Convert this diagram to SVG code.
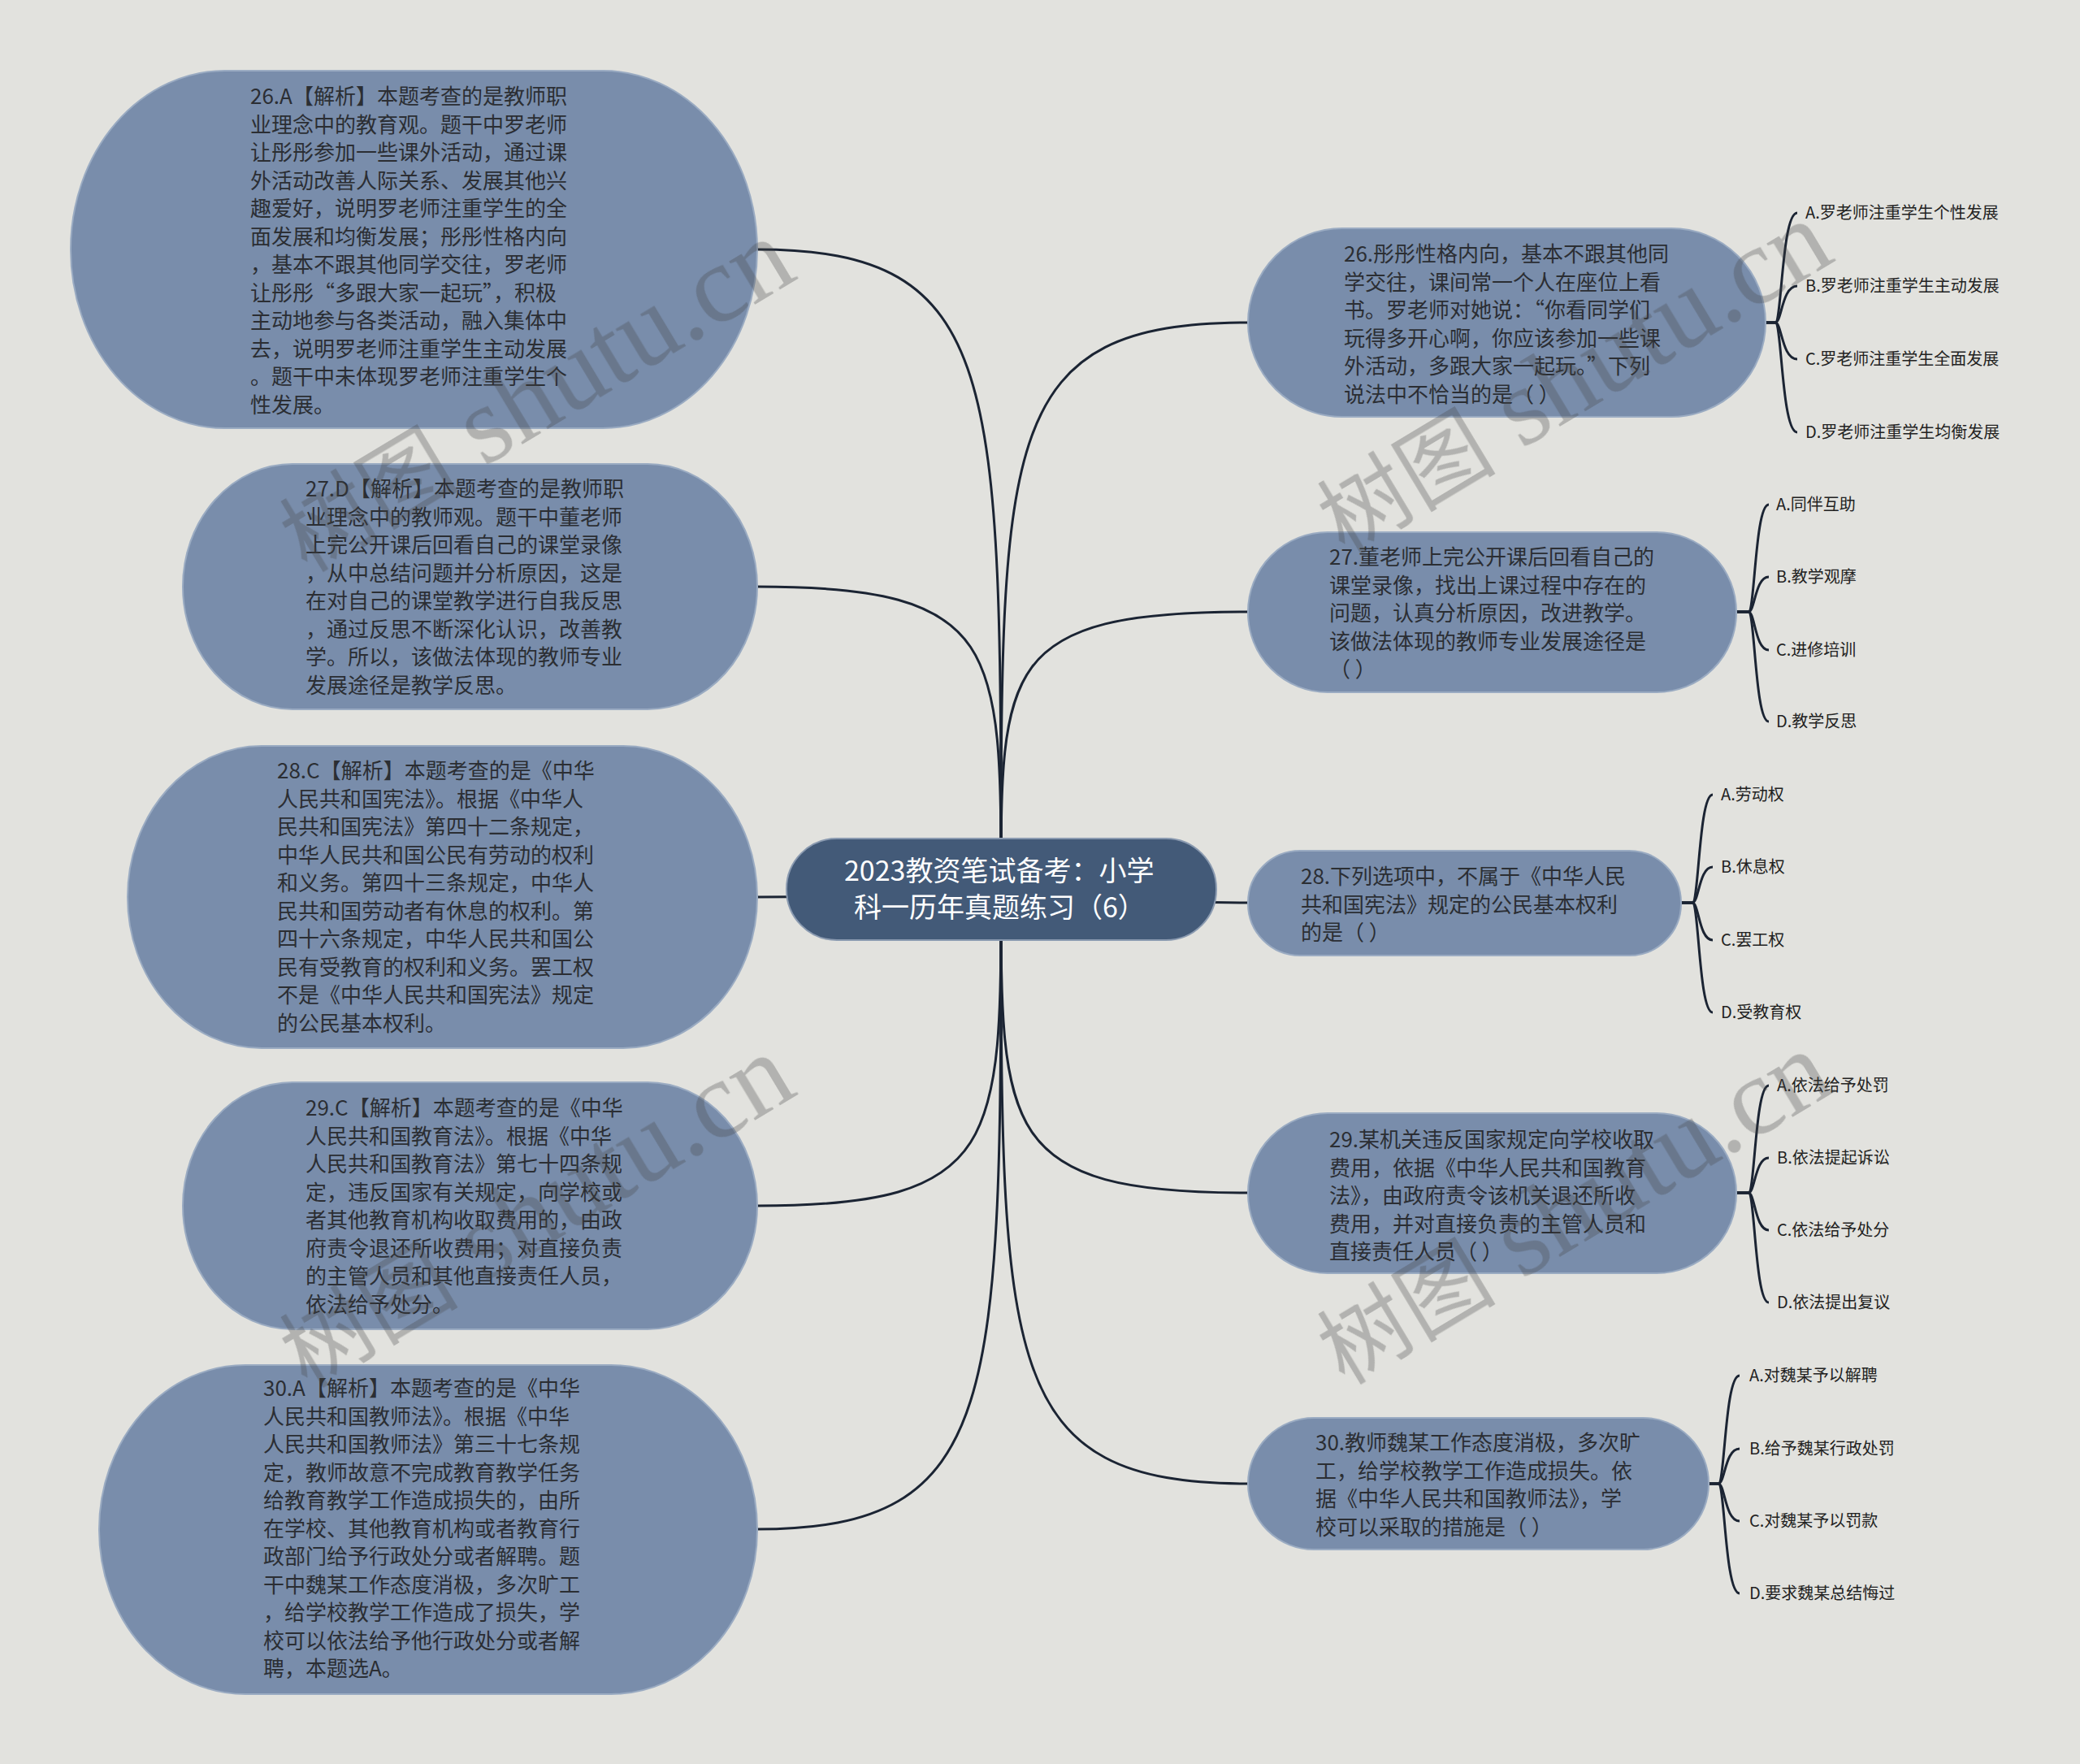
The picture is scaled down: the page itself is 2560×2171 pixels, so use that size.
<svg xmlns="http://www.w3.org/2000/svg" width="2560" height="2171" viewBox="0 0 2560 2171">
<style>
.node rect{fill:#798dab;stroke:#9aabc2;stroke-width:2}
.root rect{fill:#435a78;stroke:#8a9ab0;stroke-width:2}
.t{font-family:"Noto Sans CJK SC","Microsoft YaHei",sans-serif;font-size:26px;fill:#2b2e33}
.rt{font-family:"Noto Sans CJK SC",sans-serif;font-size:34px;fill:#ffffff}
.opt{font-family:"Noto Sans CJK SC",sans-serif;font-size:20px;fill:#222}
.conn path{fill:none;stroke:#1b2433;stroke-width:3}
.wm{font-family:"Liberation Serif","Noto Sans CJK SC",serif;fill:#444;opacity:0.3}
</style>
<rect width="2560" height="2171" fill="#e2e2de"/>
<g id="connectors" class="conn">
<path d="M932 307 C1232 307 1232 464 1232 1094"/>
<path d="M932 722 C1232 722 1232 796 1232 1094"/>
<path d="M932 1104 C1100 1104 1200 1094 1232 1094"/>
<path d="M932 1882 C1232 1882 1232 1724 1232 1094"/>
<path d="M932 1484 C1232 1484 1232 1406 1232 1094"/>
<path d="M1536 397 C1232 397 1232 536 1232 1094"/>
<path d="M1536 753 C1232 753 1232 821 1232 1094"/>
<path d="M1536 1111 C1370 1111 1270 1094 1232 1094"/>
<path d="M1536 1468 C1232 1468 1232 1393 1232 1094"/>
<path d="M1536 1826 C1232 1826 1232 1680 1232 1094"/>
<path d="M2173 397 L2185 397 C2193 397 2193 262 2212 262"/>
<path d="M2173 397 L2185 397 C2193 397 2193 352 2212 352"/>
<path d="M2173 397 L2185 397 C2193 397 2193 442 2212 442"/>
<path d="M2173 397 L2185 397 C2193 397 2193 532 2212 532"/>
<path d="M2137 753 L2152 753 C2160 753 2160 621 2177 621"/>
<path d="M2137 753 L2152 753 C2160 753 2160 710 2177 710"/>
<path d="M2137 753 L2152 753 C2160 753 2160 800 2177 800"/>
<path d="M2137 753 L2152 753 C2160 753 2160 888 2177 888"/>
<path d="M2069 1111 L2083 1111 C2091 1111 2091 978 2108 978"/>
<path d="M2069 1111 L2083 1111 C2091 1111 2091 1067 2108 1067"/>
<path d="M2069 1111 L2083 1111 C2091 1111 2091 1157 2108 1157"/>
<path d="M2069 1111 L2083 1111 C2091 1111 2091 1246 2108 1246"/>
<path d="M2137 1468 L2152 1468 C2160 1468 2160 1336 2177 1336"/>
<path d="M2137 1468 L2152 1468 C2160 1468 2160 1425 2177 1425"/>
<path d="M2137 1468 L2152 1468 C2160 1468 2160 1514 2177 1514"/>
<path d="M2137 1468 L2152 1468 C2160 1468 2160 1603 2177 1603"/>
<path d="M2103 1826 L2115 1826 C2123 1826 2123 1693 2141 1693"/>
<path d="M2103 1826 L2115 1826 C2123 1826 2123 1783 2141 1783"/>
<path d="M2103 1826 L2115 1826 C2123 1826 2123 1872 2141 1872"/>
<path d="M2103 1826 L2115 1826 C2123 1826 2123 1961 2141 1961"/>
</g>
<g id="root" class="root">
<rect x="968" y="1032" width="529" height="125" rx="62" ry="62"/>
<text class="rt" x="1039" y="1084">2023教资笔试备考：小学</text>
<text class="rt" x="1051" y="1129">科一历年真题练习（6）</text>
</g>
<g id="L1" class="node">
<rect x="87" y="87" width="845" height="440" rx="190" ry="220"/>
<text class="t" x="308" y="128">
<tspan x="308" dy="0">26.A【解析】本题考查的是教师职</tspan>
<tspan x="308" dy="34.5">业理念中的教育观。题干中罗老师</tspan>
<tspan x="308" dy="34.5">让彤彤参加一些课外活动，通过课</tspan>
<tspan x="308" dy="34.5">外活动改善人际关系、发展其他兴</tspan>
<tspan x="308" dy="34.5">趣爱好，说明罗老师注重学生的全</tspan>
<tspan x="308" dy="34.5">面发展和均衡发展；彤彤性格内向</tspan>
<tspan x="308" dy="34.5">，基本不跟其他同学交往，罗老师</tspan>
<tspan x="308" dy="34.5">让彤彤“多跟大家一起玩”，积极</tspan>
<tspan x="308" dy="34.5">主动地参与各类活动，融入集体中</tspan>
<tspan x="308" dy="34.5">去，说明罗老师注重学生主动发展</tspan>
<tspan x="308" dy="34.5">。题干中未体现罗老师注重学生个</tspan>
<tspan x="308" dy="34.5">性发展。</tspan>
</text>
</g>
<g id="L2" class="node">
<rect x="225" y="571" width="707" height="302" rx="135" ry="151"/>
<text class="t" x="376" y="611">
<tspan x="376" dy="0">27.D【解析】本题考查的是教师职</tspan>
<tspan x="376" dy="34.5">业理念中的教师观。题干中董老师</tspan>
<tspan x="376" dy="34.5">上完公开课后回看自己的课堂录像</tspan>
<tspan x="376" dy="34.5">，从中总结问题并分析原因，这是</tspan>
<tspan x="376" dy="34.5">在对自己的课堂教学进行自我反思</tspan>
<tspan x="376" dy="34.5">，通过反思不断深化认识，改善教</tspan>
<tspan x="376" dy="34.5">学。所以，该做法体现的教师专业</tspan>
<tspan x="376" dy="34.5">发展途径是教学反思。</tspan>
</text>
</g>
<g id="L3" class="node">
<rect x="157" y="918" width="775" height="372" rx="165" ry="186"/>
<text class="t" x="341" y="958">
<tspan x="341" dy="0">28.C【解析】本题考查的是《中华</tspan>
<tspan x="341" dy="34.5">人民共和国宪法》。根据《中华人</tspan>
<tspan x="341" dy="34.5">民共和国宪法》第四十二条规定，</tspan>
<tspan x="341" dy="34.5">中华人民共和国公民有劳动的权利</tspan>
<tspan x="341" dy="34.5">和义务。第四十三条规定，中华人</tspan>
<tspan x="341" dy="34.5">民共和国劳动者有休息的权利。第</tspan>
<tspan x="341" dy="34.5">四十六条规定，中华人民共和国公</tspan>
<tspan x="341" dy="34.5">民有受教育的权利和义务。罢工权</tspan>
<tspan x="341" dy="34.5">不是《中华人民共和国宪法》规定</tspan>
<tspan x="341" dy="34.5">的公民基本权利。</tspan>
</text>
</g>
<g id="L4" class="node">
<rect x="225" y="1332" width="707" height="304" rx="135" ry="152"/>
<text class="t" x="376" y="1373">
<tspan x="376" dy="0">29.C【解析】本题考查的是《中华</tspan>
<tspan x="376" dy="34.5">人民共和国教育法》。根据《中华</tspan>
<tspan x="376" dy="34.5">人民共和国教育法》第七十四条规</tspan>
<tspan x="376" dy="34.5">定，违反国家有关规定，向学校或</tspan>
<tspan x="376" dy="34.5">者其他教育机构收取费用的，由政</tspan>
<tspan x="376" dy="34.5">府责令退还所收费用；对直接负责</tspan>
<tspan x="376" dy="34.5">的主管人员和其他直接责任人员，</tspan>
<tspan x="376" dy="34.5">依法给予处分。</tspan>
</text>
</g>
<g id="L5" class="node">
<rect x="122" y="1680" width="810" height="405" rx="180" ry="202"/>
<text class="t" x="324" y="1718">
<tspan x="324" dy="0">30.A【解析】本题考查的是《中华</tspan>
<tspan x="324" dy="34.5">人民共和国教师法》。根据《中华</tspan>
<tspan x="324" dy="34.5">人民共和国教师法》第三十七条规</tspan>
<tspan x="324" dy="34.5">定，教师故意不完成教育教学任务</tspan>
<tspan x="324" dy="34.5">给教育教学工作造成损失的，由所</tspan>
<tspan x="324" dy="34.5">在学校、其他教育机构或者教育行</tspan>
<tspan x="324" dy="34.5">政部门给予行政处分或者解聘。题</tspan>
<tspan x="324" dy="34.5">干中魏某工作态度消极，多次旷工</tspan>
<tspan x="324" dy="34.5">，给学校教学工作造成了损失，学</tspan>
<tspan x="324" dy="34.5">校可以依法给予他行政处分或者解</tspan>
<tspan x="324" dy="34.5">聘，本题选A。</tspan>
</text>
</g>
<g id="R1" class="node">
<rect x="1536" y="281" width="637" height="232" rx="116" ry="116"/>
<text class="t" x="1654" y="322">
<tspan x="1654" dy="0">26.彤彤性格内向，基本不跟其他同</tspan>
<tspan x="1654" dy="34.5">学交往，课间常一个人在座位上看</tspan>
<tspan x="1654" dy="34.5">书。罗老师对她说：“你看同学们</tspan>
<tspan x="1654" dy="34.5">玩得多开心啊，你应该参加一些课</tspan>
<tspan x="1654" dy="34.5">外活动，多跟大家一起玩。”下列</tspan>
<tspan x="1654" dy="34.5">说法中不恰当的是（ ）</tspan>
</text>
</g>
<g id="R2" class="node">
<rect x="1536" y="655" width="601" height="197" rx="98" ry="98"/>
<text class="t" x="1636" y="695">
<tspan x="1636" dy="0">27.董老师上完公开课后回看自己的</tspan>
<tspan x="1636" dy="34.5">课堂录像，找出上课过程中存在的</tspan>
<tspan x="1636" dy="34.5">问题，认真分析原因，改进教学。</tspan>
<tspan x="1636" dy="34.5">该做法体现的教师专业发展途径是</tspan>
<tspan x="1636" dy="34.5">（ ）</tspan>
</text>
</g>
<g id="R3" class="node">
<rect x="1536" y="1047" width="533" height="129" rx="64" ry="64"/>
<text class="t" x="1601" y="1088">
<tspan x="1601" dy="0">28.下列选项中，不属于《中华人民</tspan>
<tspan x="1601" dy="34.5">共和国宪法》规定的公民基本权利</tspan>
<tspan x="1601" dy="34.5">的是（ ）</tspan>
</text>
</g>
<g id="R4" class="node">
<rect x="1536" y="1370" width="601" height="197" rx="98" ry="98"/>
<text class="t" x="1636" y="1412">
<tspan x="1636" dy="0">29.某机关违反国家规定向学校收取</tspan>
<tspan x="1636" dy="34.5">费用，依据《中华人民共和国教育</tspan>
<tspan x="1636" dy="34.5">法》，由政府责令该机关退还所收</tspan>
<tspan x="1636" dy="34.5">费用，并对直接负责的主管人员和</tspan>
<tspan x="1636" dy="34.5">直接责任人员（ ）</tspan>
</text>
</g>
<g id="R5" class="node">
<rect x="1536" y="1745" width="567" height="162" rx="81" ry="81"/>
<text class="t" x="1619" y="1785">
<tspan x="1619" dy="0">30.教师魏某工作态度消极，多次旷</tspan>
<tspan x="1619" dy="34.5">工，给学校教学工作造成损失。依</tspan>
<tspan x="1619" dy="34.5">据《中华人民共和国教师法》，学</tspan>
<tspan x="1619" dy="34.5">校可以采取的措施是（ ）</tspan>
</text>
</g>
<g id="R1-options">
<text class="opt" x="2222" y="269">A.罗老师注重学生个性发展</text>
<text class="opt" x="2222" y="359">B.罗老师注重学生主动发展</text>
<text class="opt" x="2222" y="449">C.罗老师注重学生全面发展</text>
<text class="opt" x="2222" y="539">D.罗老师注重学生均衡发展</text>
</g>
<g id="R2-options">
<text class="opt" x="2186" y="628">A.同伴互助</text>
<text class="opt" x="2186" y="717">B.教学观摩</text>
<text class="opt" x="2186" y="807">C.进修培训</text>
<text class="opt" x="2186" y="895">D.教学反思</text>
</g>
<g id="R3-options">
<text class="opt" x="2118" y="985">A.劳动权</text>
<text class="opt" x="2118" y="1074">B.休息权</text>
<text class="opt" x="2118" y="1164">C.罢工权</text>
<text class="opt" x="2118" y="1253">D.受教育权</text>
</g>
<g id="R4-options">
<text class="opt" x="2187" y="1343">A.依法给予处罚</text>
<text class="opt" x="2187" y="1432">B.依法提起诉讼</text>
<text class="opt" x="2187" y="1521">C.依法给予处分</text>
<text class="opt" x="2187" y="1610">D.依法提出复议</text>
</g>
<g id="R5-options">
<text class="opt" x="2153" y="1700">A.对魏某予以解聘</text>
<text class="opt" x="2153" y="1790">B.给予魏某行政处罚</text>
<text class="opt" x="2153" y="1879">C.对魏某予以罚款</text>
<text class="opt" x="2153" y="1968">D.要求魏某总结悔过</text>
</g>
<g id="watermarks" class="wm">
<text transform="translate(378,706) rotate(-31)"><tspan font-size="110">树图</tspan><tspan font-size="135"> shutu.cn</tspan></text>
<text transform="translate(1655,684) rotate(-31)"><tspan font-size="110">树图</tspan><tspan font-size="135"> shutu.cn</tspan></text>
<text transform="translate(378,1710) rotate(-31)"><tspan font-size="110">树图</tspan><tspan font-size="135"> shutu.cn</tspan></text>
<text transform="translate(1655,1706) rotate(-31)"><tspan font-size="110">树图</tspan><tspan font-size="135"> shutu.cn</tspan></text>
</g>
</svg>
